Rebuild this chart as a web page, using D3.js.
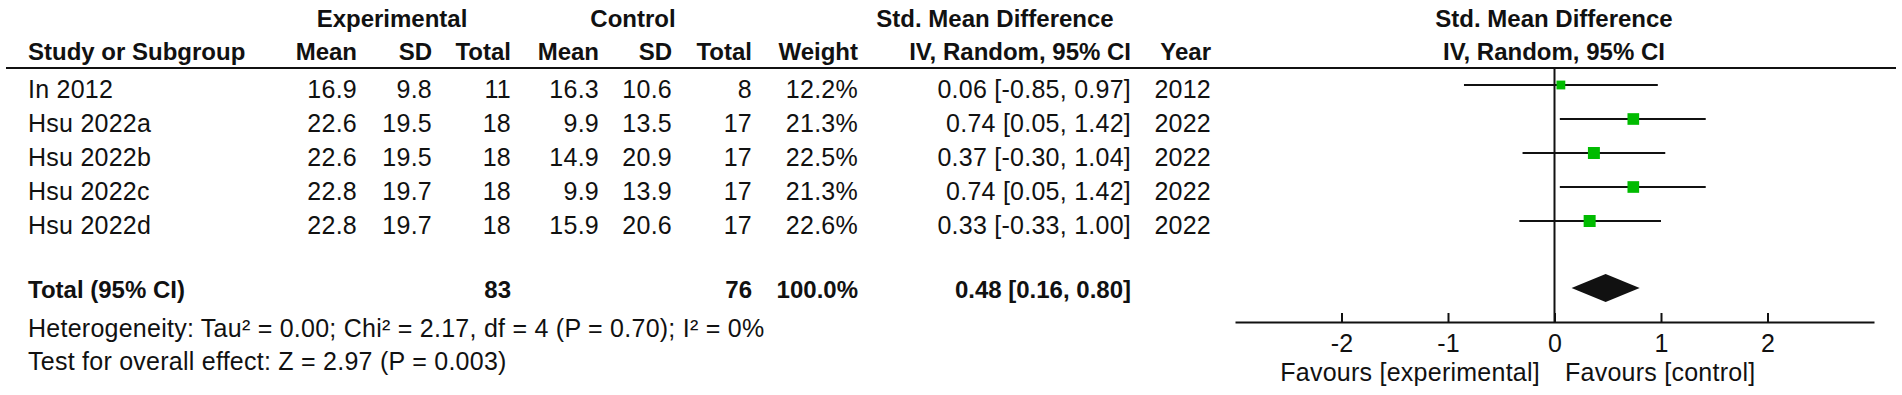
<!DOCTYPE html>
<html>
<head>
<meta charset="utf-8">
<script src="https://cdn.jsdelivr.net/npm/d3@7"></script>
<style>
  body { margin: 0; background: #fff; }
  text { font-family: "Liberation Sans", Arial, sans-serif; fill: #111; }
  .reg { font-size: 25px; letter-spacing: 0.25px; }
  .bold { font-size: 24px; font-weight: bold; }
</style>
</head>
<body>
<div id="forest"></div>
<script>
const WIDTH = 1902, HEIGHT = 395;

// data
const studies = ["In 2012", "Hsu 2022a", "Hsu 2022b", "Hsu 2022c", "Hsu 2022d"];
const expMean = [16.9, 22.6, 22.6, 22.8, 22.8];
const expSD = [9.8, 19.5, 19.5, 19.7, 19.7];
const expN = [11, 18, 18, 18, 18];
const ctlMean = [16.3, 9.9, 14.9, 9.9, 15.9];
const ctlSD = [10.6, 13.5, 20.9, 13.9, 20.6];
const ctlN = [8, 17, 17, 17, 17];
const weights = [12.2, 21.3, 22.5, 21.3, 22.6];
const smd = [0.06, 0.74, 0.37, 0.74, 0.33];
const ciLow = [-0.85, 0.05, -0.30, 0.05, -0.33];
const ciHigh = [0.97, 1.42, 1.04, 1.42, 1.00];
const years = [2012, 2022, 2022, 2022, 2022];
const pooled = [0.48, 0.16, 0.80];   // estimate, lower, upper
const totalN = [83, 76];
const xTicks = [-2, -1, 0, 1, 2];
const heterogeneity = "Heterogeneity: Tau\u00b2 = 0.00; Chi\u00b2 = 2.17, df = 4 (P = 0.70); I\u00b2 = 0%";
const overall = "Test for overall effect: Z = 2.97 (P = 0.003)";

const rows = studies.map((s, i) => ({
  study: s, em: expMean[i], esd: expSD[i], en: expN[i],
  cm: ctlMean[i], csd: ctlSD[i], cn: ctlN[i],
  w: weights[i], est: smd[i], lo: ciLow[i], hi: ciHigh[i], year: years[i]
}));

const svg = d3.select("#forest")
  .append("svg")
  .attr("width", WIDTH)
  .attr("height", HEIGHT)
  .attr("viewBox", `0 0 ${WIDTH} ${HEIGHT}`);

svg.append("rect").attr("width", WIDTH).attr("height", HEIGHT).attr("fill", "#fff");

// scales
const x = d3.scaleLinear().domain([-3, 3]).range([1235, 1874]);
const y = d3.scalePoint().domain(studies).range([85, 221]);
const boxSide = d3.scaleSqrt().domain([0, d3.max(weights)]).range([0, 12]);

const f1 = v => v.toFixed(1);
const f2 = v => v.toFixed(2);
const ci = (e, l, h) => `${f2(e)} [${f2(l)}, ${f2(h)}]`;

// table columns: header, right edge, cell text
const cols = [
  { x: 357, head: "Mean", val: d => f1(d.em) },
  { x: 432, head: "SD", val: d => f1(d.esd) },
  { x: 511, head: "Total", val: d => d.en },
  { x: 599, head: "Mean", val: d => f1(d.cm) },
  { x: 672, head: "SD", val: d => f1(d.csd) },
  { x: 752, head: "Total", val: d => d.cn },
  { x: 858, head: "Weight", val: d => f1(d.w) + "%" },
  { x: 1131, head: "IV, Random, 95% CI", val: d => ci(d.est, d.lo, d.hi) },
  { x: 1211, head: "Year", val: d => d.year }
];

// headers
const head1 = [
  { t: "Experimental", x: 392 },
  { t: "Control", x: 633 },
  { t: "Std. Mean Difference", x: 995 },
  { t: "Std. Mean Difference", x: 1554 }
];
svg.selectAll(".h1").data(head1).join("text")
  .attr("class", "bold")
  .attr("x", d => d.x).attr("y", 27)
  .attr("text-anchor", "middle")
  .text(d => d.t);

svg.append("text").attr("class", "bold").attr("x", 28).attr("y", 60)
  .text("Study or Subgroup");

svg.selectAll(".h2").data(cols).join("text")
  .attr("class", "bold")
  .attr("x", d => d.x).attr("y", 60)
  .attr("text-anchor", "end")
  .text(d => d.head);

svg.append("text").attr("class", "bold").attr("x", 1554).attr("y", 60)
  .attr("text-anchor", "middle")
  .text("IV, Random, 95% CI");

svg.append("line")
  .attr("x1", 6).attr("x2", 1896).attr("y1", 68).attr("y2", 68)
  .attr("stroke", "#111").attr("stroke-width", 2);

// study rows
const rowG = svg.selectAll(".row").data(rows).join("g")
  .attr("transform", d => `translate(0, ${y(d.study)})`);

rowG.append("text").attr("class", "reg").attr("x", 28).attr("y", 13)
  .text(d => d.study);

cols.forEach(c => {
  rowG.append("text").attr("class", "reg").attr("x", c.x).attr("y", 13)
    .attr("text-anchor", "end")
    .text(d => c.val(d));
});

// total row
const totalCells = [
  { x: 511, t: totalN[0] },
  { x: 752, t: totalN[1] },
  { x: 858, t: "100.0%" },
  { x: 1131, t: ci(pooled[0], pooled[1], pooled[2]) }
];
svg.append("text").attr("class", "bold").attr("x", 28).attr("y", 298)
  .text("Total (95% CI)");
svg.selectAll(".tot").data(totalCells).join("text")
  .attr("class", "bold")
  .attr("x", d => d.x).attr("y", 298)
  .attr("text-anchor", "end")
  .text(d => d.t);

svg.append("text").attr("class", "reg").attr("x", 28).attr("y", 337)
  .text(heterogeneity);
svg.append("text").attr("class", "reg").attr("x", 28).attr("y", 370)
  .text(overall);

// forest plot
svg.append("line")
  .attr("x1", x(0)).attr("x2", x(0)).attr("y1", 68).attr("y2", 322)
  .attr("stroke", "#111").attr("stroke-width", 2);

rowG.append("line")
  .attr("x1", d => x(d.lo)).attr("x2", d => x(d.hi))
  .attr("y1", 0).attr("y2", 0)
  .attr("stroke", "#111").attr("stroke-width", 2);

rowG.append("rect")
  .attr("x", d => x(d.est) - boxSide(d.w) / 2)
  .attr("y", d => -boxSide(d.w) / 2)
  .attr("width", d => boxSide(d.w))
  .attr("height", d => boxSide(d.w))
  .attr("fill", "#00bb00");

// pooled diamond
const dy = 288, dh = 14;
svg.append("path")
  .attr("d", `M${x(pooled[1])},${dy} L${x(pooled[0])},${dy - dh} L${x(pooled[2])},${dy} L${x(pooled[0])},${dy + dh} Z`)
  .attr("fill", "#111");

// axis
const axis = svg.append("g")
  .attr("transform", "translate(0, 322)")
  .call(d3.axisBottom(x).tickValues(xTicks).tickSize(-9).tickSizeOuter(0)
    .tickPadding(12).tickFormat(d => String(d)));
axis.select(".domain").attr("stroke", "#111").attr("stroke-width", 2);
axis.selectAll(".tick line").attr("stroke", "#111").attr("stroke-width", 2);
axis.selectAll(".tick text")
  .attr("class", "reg")
  .style("font-family", '"Liberation Sans", Arial, sans-serif')
  .attr("fill", "#111");

svg.append("text").attr("class", "reg").attr("x", 1540).attr("y", 381)
  .attr("text-anchor", "end")
  .text("Favours [experimental]");
svg.append("text").attr("class", "reg").attr("x", 1565).attr("y", 381)
  .text("Favours [control]");
</script>
</body>
</html>
